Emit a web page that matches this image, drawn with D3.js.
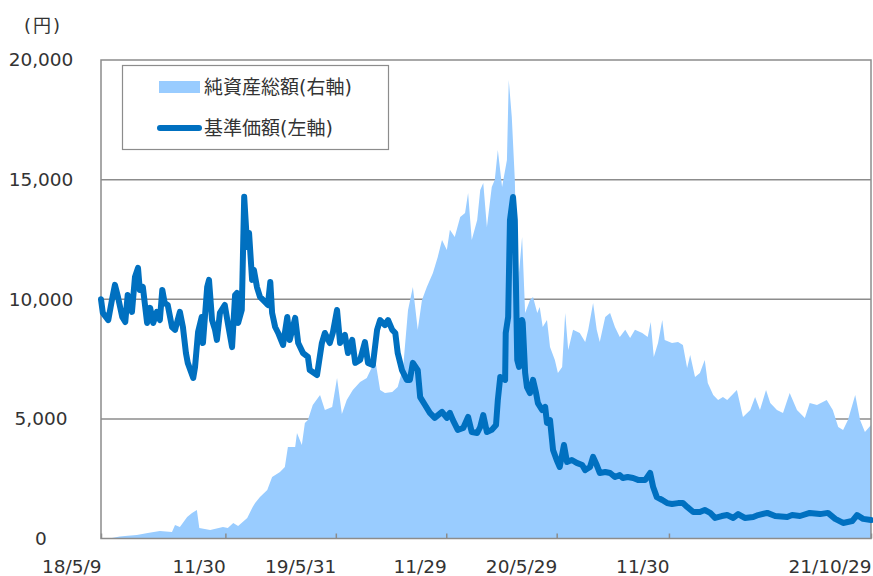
<!DOCTYPE html>
<html><head><meta charset="utf-8">
<script src="https://cdn.jsdelivr.net/npm/d3@7"></script>
<style>
body{margin:0;background:#fff;}
svg{display:block;}
text{font-family:"DejaVu Sans","Noto Sans CJK JP",sans-serif;fill:#333;}
</style></head><body>
<svg id="c" width="873" height="576"></svg>
<script>
// 基準価額 (円, 左軸)
const navDates = ["2018-05-09","2018-05-12","2018-05-21","2018-05-27","2018-06-01","2018-06-06","2018-06-13","2018-06-18","2018-06-22","2018-06-29",
"2018-07-04","2018-07-09","2018-07-12","2018-07-17","2018-07-24","2018-07-29","2018-08-03","2018-08-09","2018-08-14","2018-08-18",
"2018-08-22","2018-08-27","2018-09-03","2018-09-08","2018-09-16","2018-09-21","2018-09-26","2018-09-29","2018-10-08","2018-10-11",
"2018-10-16","2018-10-22","2018-10-24","2018-10-31","2018-11-03","2018-11-08","2018-11-13","2018-11-16","2018-11-21","2018-11-29",
"2018-12-04","2018-12-11","2018-12-16","2018-12-19","2018-12-21","2018-12-27","2018-12-31","2019-01-05","2019-01-08","2019-01-13",
"2019-01-16","2019-01-21","2019-01-26","2019-01-31","2019-02-08","2019-02-12","2019-02-15","2019-02-20","2019-02-25","2019-03-05",
"2019-03-12","2019-03-16","2019-03-25","2019-03-30","2019-04-07","2019-04-15","2019-04-18","2019-04-30","2019-05-08","2019-05-13",
"2019-05-21","2019-05-26","2019-06-02","2019-06-07","2019-06-15","2019-06-20","2019-06-27","2019-07-02","2019-07-10","2019-07-18",
"2019-07-23","2019-07-31","2019-08-07","2019-08-12","2019-08-20","2019-08-25","2019-09-01","2019-09-06","2019-09-10","2019-09-17",
"2019-09-25","2019-09-30","2019-10-05","2019-10-13","2019-10-17","2019-10-25","2019-11-02","2019-11-10","2019-11-22","2019-11-30",
"2019-12-05","2019-12-10","2019-12-18","2019-12-27","2020-01-04","2020-01-10","2020-01-19","2020-01-24","2020-01-29","2020-02-04",
"2020-02-12","2020-02-19","2020-02-22","2020-02-26","2020-03-05","2020-03-06","2020-03-10","2020-03-13","2020-03-18","2020-03-21",
"2020-03-25","2020-03-28","2020-04-02","2020-04-03","2020-04-07","2020-04-10","2020-04-15","2020-04-20","2020-04-25","2020-04-28",
"2020-05-05","2020-05-10","2020-05-13","2020-05-18","2020-05-23","2020-05-29","2020-06-03","2020-06-10","2020-06-15","2020-06-23",
"2020-07-01","2020-07-10","2020-07-15","2020-07-23","2020-07-28","2020-08-03","2020-08-08","2020-08-17","2020-08-25","2020-09-02",
"2020-09-10","2020-09-15","2020-09-23","2020-10-02","2020-10-10","2020-10-22","2020-10-30","2020-11-04","2020-11-10","2020-11-19",
"2020-11-27","2020-12-05","2020-12-15","2020-12-23","2020-12-30","2021-01-09","2021-01-20","2021-01-28","2021-02-06","2021-02-14",
"2021-02-25","2021-03-06","2021-03-16","2021-03-24","2021-04-04","2021-04-18","2021-04-26","2021-05-11","2021-05-24","2021-06-13",
"2021-06-21","2021-07-04","2021-07-20","2021-08-06","2021-08-19","2021-08-31","2021-09-13","2021-09-28","2021-10-06","2021-10-16",
"2021-10-29"];
const navValues = [10000,9430,9130,9970,10600,10090,9260,9050,10180,9470,
10930,11310,10390,10510,9010,9640,9010,9470,9130,10390,
9840,9760,8840,8720,9470,8840,7750,7340,6710,7170,
8630,9260,8170,10510,10810,9130,8720,8300,9430,9760,
9010,8000,10180,10260,9010,9550,14280,12180,12770,10810,
11220,10510,10100,9970,9760,10720,9430,8840,8590,8090,
9260,8300,9220,8170,7750,7590,7040,6830,8170,8590,
8170,8590,9550,8170,8510,7750,8300,7340,7460,8210,
7340,7250,8720,9130,8920,9130,8720,8590,7750,7040,
6630,6630,7340,7040,5910,5580,5250,5040,5290,5040,
5250,4950,4540,4620,5080,4450,4410,4660,5160,4450,
4540,4740,5790,6750,6630,8590,9260,13310,14270,13310,
7460,7170,9130,9010,6920,6330,6080,6630,6080,5660,
5370,5500,4830,4950,3700,3280,2990,3910,3200,3280,
3160,3070,2860,2990,3410,3070,2740,2780,2740,2570,
2650,2530,2570,2530,2450,2450,2740,2150,1730,1610,
1480,1440,1480,1480,1320,1110,1110,1190,1070,860,
940,980,860,1020,860,900,980,1070,940,900,
980,940,1070,1020,1070,820,650,730,980,820,
770];

// 純資産総額 (億円, 右軸・目盛なし)
const assetDates = ["2018-05-27","2018-06-09","2018-06-22","2018-07-07","2018-07-25","2018-08-14","2018-09-03","2018-09-08","2018-09-16","2018-09-28",
"2018-10-06","2018-10-14","2018-10-18","2018-11-05","2018-11-26","2018-12-04","2018-12-13","2018-12-21","2019-01-05","2019-01-14",
"2019-01-18","2019-01-26","2019-02-07","2019-02-15","2019-02-28","2019-03-08","2019-03-13","2019-03-25","2019-03-28","2019-04-05",
"2019-04-10","2019-04-15","2019-04-23","2019-05-05","2019-05-13","2019-05-25","2019-06-02","2019-06-10","2019-06-18","2019-06-28",
"2019-07-10","2019-07-21","2019-08-04","2019-08-12","2019-08-20","2019-09-01","2019-09-10","2019-09-19","2019-09-27","2019-10-05",
"2019-10-13","2019-10-20","2019-10-28","2019-11-07","2019-11-15","2019-11-22","2019-11-30","2019-12-05","2019-12-13","2019-12-22",
"2019-12-30","2020-01-04","2020-01-10","2020-01-19","2020-01-24","2020-01-29","2020-02-04","2020-02-12","2020-02-17","2020-02-22",
"2020-02-29","2020-03-08","2020-03-11","2020-03-16","2020-03-21","2020-03-25","2020-04-02","2020-04-07","2020-04-15","2020-04-20",
"2020-04-27","2020-05-01","2020-05-06","2020-05-13","2020-05-18","2020-05-26","2020-05-31","2020-06-07","2020-06-12","2020-06-17",
"2020-06-25","2020-07-06","2020-07-15","2020-07-20","2020-07-28","2020-08-03","2020-08-08","2020-08-17","2020-08-25","2020-09-02",
"2020-09-10","2020-09-19","2020-09-27","2020-10-05","2020-10-17","2020-10-26","2020-10-31","2020-11-05","2020-11-12","2020-11-19",
"2020-11-23","2020-12-05","2020-12-15","2020-12-23","2020-12-30","2021-01-04","2021-01-12","2021-01-20","2021-01-28","2021-02-02",
"2021-02-11","2021-02-19","2021-02-27","2021-03-06","2021-03-14","2021-03-22","2021-04-01","2021-04-13","2021-04-21","2021-04-29",
"2021-05-09","2021-05-16","2021-05-27","2021-06-06","2021-06-17","2021-06-29","2021-07-12","2021-07-20","2021-08-01","2021-08-17",
"2021-08-27","2021-09-05","2021-09-13","2021-09-21","2021-10-03","2021-10-11","2021-10-19","2021-10-29"];
const assetValues = [0.2,0.8,1.2,1.5,2.3,3.1,2.7,5.6,4.8,9.0,
10.7,11.9,4.4,3.6,4.8,4.4,6.5,5.2,8.6,13.2,
14.8,17.3,20.3,25.7,27.8,29.9,38.2,38.2,44.1,39.1,
48.3,49.5,55.8,60.0,53.7,55.0,67.1,52.0,57.9,62.1,
65.4,67.1,74.6,62.1,60.8,61.2,63.3,71.7,95.5,105.1,
87.2,99.7,105.1,111.0,117.7,124.8,120.6,129.0,126.0,134.4,
136.1,144.4,124.8,133.1,145.7,148.6,130.2,146.9,149.9,162.4,
146.9,158.2,191.6,176.2,149.9,102.6,126.0,94.3,99.7,100.9,
94.3,96.8,88.4,91.3,80.0,74.6,69.2,71.7,94.3,78.8,
87.2,85.9,82.1,87.2,98.4,87.2,82.1,92.6,94.3,88.4,
84.2,87.2,83.8,87.2,85.9,84.2,90.5,75.9,81.7,91.3,
83.0,81.7,82.1,80.9,71.3,76.7,67.5,69.2,74.6,65.0,
60.0,57.9,59.1,57.9,60.0,62.1,50.8,53.7,59.1,53.7,
62.1,56.6,53.7,52.5,60.8,53.7,50.4,56.6,55.8,57.9,
53.7,46.6,45.4,49.5,60.0,49.5,44.5,47.4];

const yTicks = [0, 5000, 10000, 15000, 20000];
const xTickDates = ["2018-05-09","2018-11-30","2019-05-31","2019-11-29","2020-05-29","2020-11-30","2021-10-29"];
const xTickLabels = ["18/5/9","11/30","19/5/31","11/29","20/5/29","11/30","21/10/29"];
const legendLabels = ["純資産総額(右軸)","基準価額(左軸)"];
const unitLabel = "(円)";

const parse = d3.timeParse("%Y-%m-%d");
const nav = navDates.map((d,i)=>({date:parse(d), v:navValues[i]}));
const assets = assetDates.map((d,i)=>({date:parse(d), v:assetValues[i]}));

const L = 101, R = 871, T = 60, B = 538.5;
const svg = d3.select("#c");
const x = d3.scaleTime().domain([parse(xTickDates[0]), parse(xTickDates[xTickDates.length-1])]).range([L, R]);
const yL = d3.scaleLinear().domain([0, 20000]).range([B, T]);
const yR = d3.scaleLinear().domain([0, 200]).range([B, T]);

const gridColor = "#8c8c8c";

// gridlines
svg.append("g").selectAll("line").data(yTicks.filter(t=>t>0 && t<20000)).join("line")
  .attr("x1", L).attr("x2", R).attr("y1", d=>yL(d)).attr("y2", d=>yL(d))
  .attr("stroke", gridColor).attr("stroke-width", 1.5);

// area
svg.append("path").datum(assets)
  .attr("d", d3.area().x(d=>x(d.date)).y0(B).y1(d=>yR(d.v)))
  .attr("fill", "#99ccff");

// frame
svg.append("rect").attr("x", L).attr("y", T).attr("width", R-L).attr("height", B-T)
  .attr("fill", "none").attr("stroke", gridColor).attr("stroke-width", 1.5);

// left axis labels
const ay = svg.append("g").attr("transform", `translate(${L},0)`)
  .call(d3.axisLeft(yL).tickValues(yTicks).tickFormat(d3.format(",")).tickSize(0));
ay.select(".domain").remove();
ay.selectAll("text").attr("x", -60).attr("text-anchor", "middle")
  .style("font-size", "18.5px").attr("fill", "#333");

// bottom axis
const ax = svg.append("g").attr("transform", `translate(0,${B})`)
  .call(d3.axisBottom(x).tickValues(xTickDates.map(parse)).tickFormat((d,i)=>xTickLabels[i]).tickSizeInner(-5).tickSizeOuter(0));
ax.select(".domain").remove();
ax.selectAll("line").attr("stroke", gridColor).attr("stroke-width", 1.5);
ax.selectAll("text").attr("y", 28.5).attr("dy", "0.35em").attr("text-anchor", "end")
  .style("font-size", "18.5px").attr("fill", "#333");

// line
svg.append("path").datum(nav)
  .attr("d", d3.line().x(d=>x(d.date)).y(d=>yL(d.v)))
  .attr("fill", "none").attr("stroke", "#0070c0").attr("stroke-width", 6)
  .attr("stroke-linejoin", "round").attr("stroke-linecap", "round");

// unit label
svg.append("text").attr("x", 43).attr("y", 26).attr("dy", "0.35em").attr("text-anchor", "middle")
  .style("font-size", "18px").style("letter-spacing", "2px").text(unitLabel);

// legend
const lg = svg.append("g");
lg.append("rect").attr("x", 122.5).attr("y", 65.5).attr("width", 266).attr("height", 84)
  .attr("fill", "#fff").attr("stroke", gridColor).attr("stroke-width", 1.2);
lg.append("rect").attr("x", 159).attr("y", 81).attr("width", 41).attr("height", 12).attr("fill", "#99ccff");
lg.append("line").attr("x1", 160).attr("x2", 199).attr("y1", 128).attr("y2", 128)
  .attr("stroke", "#0070c0").attr("stroke-width", 6).attr("stroke-linecap", "round");
lg.selectAll("text.lt").data(legendLabels).join("text").attr("class", "lt")
  .attr("x", 204).attr("y", (d,i)=>i===0?87:128).attr("dy", "0.35em")
  .style("font-size", "19px").text(d=>d);
</script>
</body></html>
